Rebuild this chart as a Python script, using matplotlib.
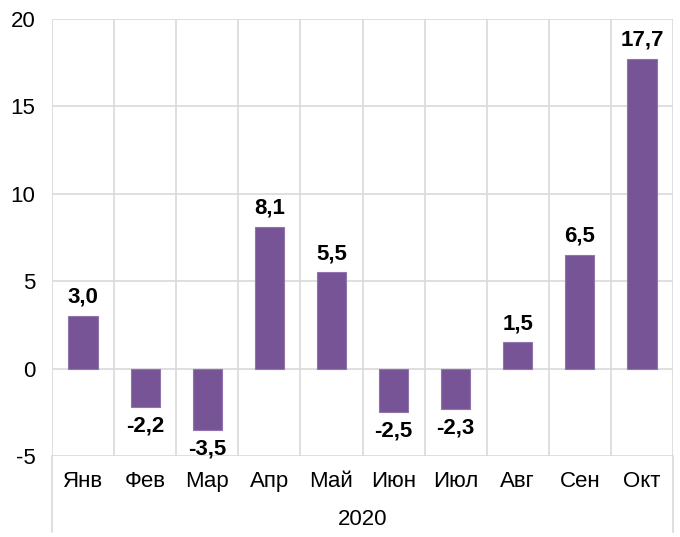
import numpy as np
import matplotlib
matplotlib.use('Agg')
import matplotlib.pyplot as plt
from matplotlib.lines import Line2D

plt.rcParams['font.family'] = ['Liberation Sans', 'DejaVu Sans']

months = ['Янв', 'Фев', 'Мар', 'Апр', 'Май', 'Июн', 'Июл', 'Авг', 'Сен', 'Окт']
values = [3.0, -2.2, -3.5, 8.1, 5.5, -2.5, -2.3, 1.5, 6.5, 17.7]
year_label = '2020'
y_ticks = [-5, 0, 5, 10, 15, 20]

BAR_COLOR = '#765496'
GRID_COLOR = '#d9d9d9'
FS = 16

fig = plt.figure(figsize=(6.8, 5.37), dpi=100)
ax = fig.add_axes([0.0765, 0.1508, 0.9132, 0.8138])

x = np.arange(len(months))
ax.bar(x, values, width=0.47, color=BAR_COLOR, edgecolor='#8f74ad', linewidth=0.8, zorder=3)

# horizontal grid
for t in y_ticks:
    ax.axhline(t, color=GRID_COLOR, linewidth=1.2, zorder=1)
# vertical separators between categories
for b in np.arange(-0.5, len(months), 1.0):
    ax.axvline(b, color=GRID_COLOR, linewidth=1.2, zorder=1)

ax.set_xlim(-0.5, len(months) - 0.5)
ax.set_ylim(-5, 20)
ax.set_yticks(y_ticks)
ax.set_yticklabels([str(t) for t in y_ticks], fontsize=FS)
ax.set_xticks(x)
ax.set_xticklabels(months, fontsize=FS)
ax.tick_params(axis='both', length=0)
ax.tick_params(axis='x', pad=11)
ax.tick_params(axis='y', pad=12)
for s in ax.spines.values():
    s.set_visible(False)

# outer group lines extending down (multi-level category axis)
for xa in (0.0, 1.0):
    ax.add_line(Line2D([xa, xa], [0.0, -0.174], transform=ax.transAxes,
                       color=GRID_COLOR, linewidth=1.2, clip_on=False))

ax.text(0.5, -0.146, year_label, transform=ax.transAxes, ha='center', va='center', fontsize=FS)

# data labels
for xi, v in zip(x, values):
    label = f'{v:.1f}'.replace('.', ',')
    if v >= 0:
        ax.annotate(label, (xi, v), xytext=(0, 6), textcoords='offset points',
                    ha='center', va='bottom', fontsize=FS, fontweight='bold', zorder=4)
    else:
        ax.annotate(label, (xi, v), xytext=(0, -6), textcoords='offset points',
                    ha='center', va='top', fontsize=FS, fontweight='bold', zorder=4,
                    annotation_clip=False)

fig.savefig('out.png', dpi=100)
